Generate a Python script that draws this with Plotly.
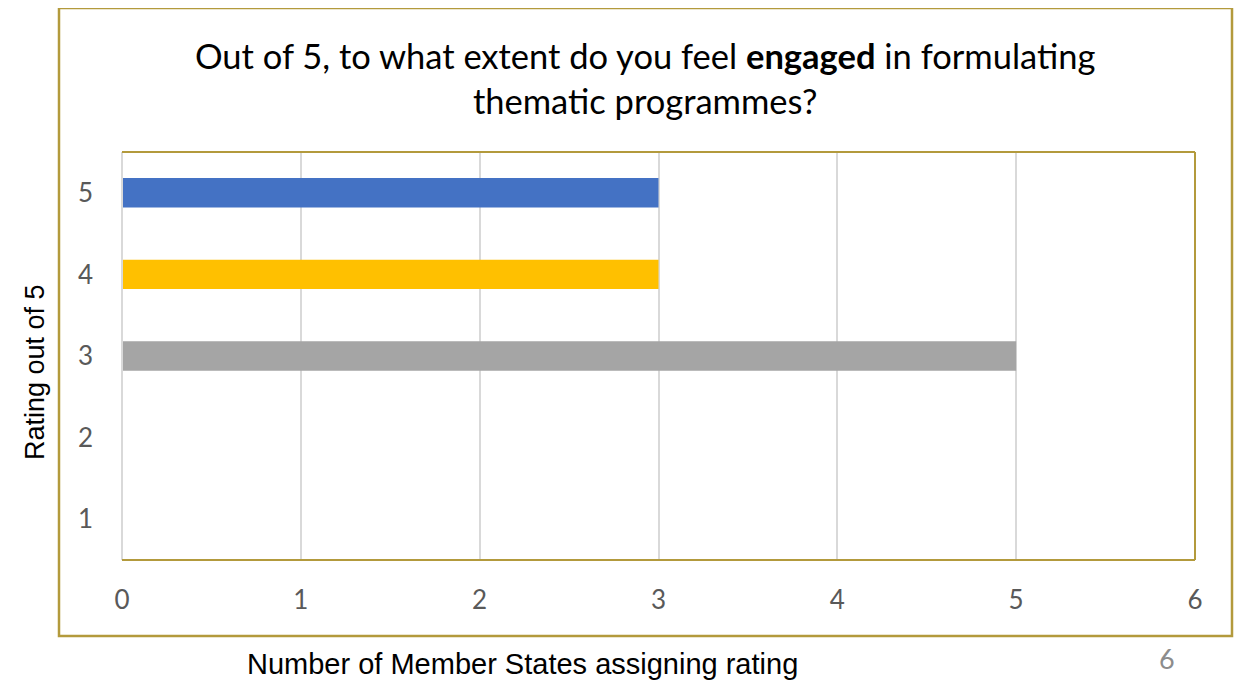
import plotly.graph_objects as go

# Data
ratings = [1, 2, 3, 4, 5]
counts = [0, 0, 5, 3, 3]
bar_colors = ["#4472C4", "#ED7D31", "#A5A5A5", "#FFC000", "#4472C4"]
x_ticks = [0, 1, 2, 3, 4, 5, 6]

title_text = "Out of 5, to what extent do you feel <b>engaged</b> in formulating<br>thematic programmes?"
x_title = "Number of Member States assigning rating"
y_title = "Rating out of 5"
page_no = "6"

GOLD = "#B39A3C"

fig = go.Figure()
fig.add_trace(go.Bar(
    y=ratings, x=counts, orientation="h",
    marker=dict(color=bar_colors, line=dict(width=0)),
    width=0.36, hoverinfo="x+y",
))

OFF = 8  # page body margin
W, H = 1243 - OFF, 681 - OFF
L, T = 122 - OFF, 152 - OFF
R = W - (1195 - OFF)
B = H - (560 - OFF)
pw, ph = W - L - R, H - T - B


def px_x(x):
    return (x - OFF - L) / pw


def px_y(y):
    return (H - B - (y - OFF)) / ph


fig.update_layout(
    width=W, height=H,
    margin=dict(l=L, r=R, t=T, b=B, pad=0),
    paper_bgcolor="white", plot_bgcolor="white",
    showlegend=False,
    xaxis=dict(
        range=[0, 6], tickvals=x_ticks, showgrid=True, gridcolor="#D9D9D9", gridwidth=2,
        zeroline=False, showline=False, ticks="", ticklabelstandoff=22,
        tickfont=dict(family="Lato, Open Sans, sans-serif", size=26, color="#595959"),
        fixedrange=True,
    ),
    yaxis=dict(
        range=[0.5, 5.5], tickvals=ratings, showgrid=False, zeroline=False,
        showline=False, ticks="", ticklabelstandoff=28,
        tickfont=dict(family="Lato, Open Sans, sans-serif", size=26, color="#595959"),
        fixedrange=True,
    ),
    shapes=[
        dict(type="rect", xref="paper", yref="paper",
             x0=px_x(59), x1=px_x(1232), y0=px_y(636), y1=px_y(8),
             line=dict(color=GOLD, width=2.5), layer="below"),
        dict(type="line", xref="paper", yref="paper", x0=0, x1=0, y0=0, y1=1,
             line=dict(color="#D9D9D9", width=2)),
        dict(type="line", xref="paper", yref="paper", x0=0, x1=1, y0=1, y1=1,
             line=dict(color=GOLD, width=2)),
        dict(type="line", xref="paper", yref="paper", x0=1, x1=1, y0=0, y1=1,
             line=dict(color=GOLD, width=2)),
        dict(type="line", xref="paper", yref="paper", x0=0, x1=1, y0=0, y1=0,
             line=dict(color=GOLD, width=2)),
    ],
    annotations=[
        dict(text=title_text, xref="paper", yref="paper",
             x=px_x(645), y=px_y(78), xanchor="center", yanchor="middle",
             showarrow=False, align="center",
             font=dict(family="Lato, Open Sans, sans-serif", size=34.5, color="black")),
        dict(text=x_title, xref="paper", yref="paper",
             x=px_x(522), y=px_y(664), xanchor="center", yanchor="middle",
             showarrow=False,
             font=dict(family="Liberation Sans, Arial, sans-serif", size=29, color="black")),
        dict(text=y_title, xref="paper", yref="paper", textangle=-90,
             x=px_x(35), y=px_y(372), xanchor="center", yanchor="middle",
             showarrow=False,
             font=dict(family="Liberation Sans, Arial, sans-serif", size=27, color="black")),
        dict(text=page_no, xref="paper", yref="paper",
             x=px_x(1167), y=px_y(658), xanchor="center", yanchor="middle",
             showarrow=False,
             font=dict(family="Lato, Open Sans, sans-serif", size=27, color="#8C8C8C")),
    ],
)

fig.write_html("out.html")
